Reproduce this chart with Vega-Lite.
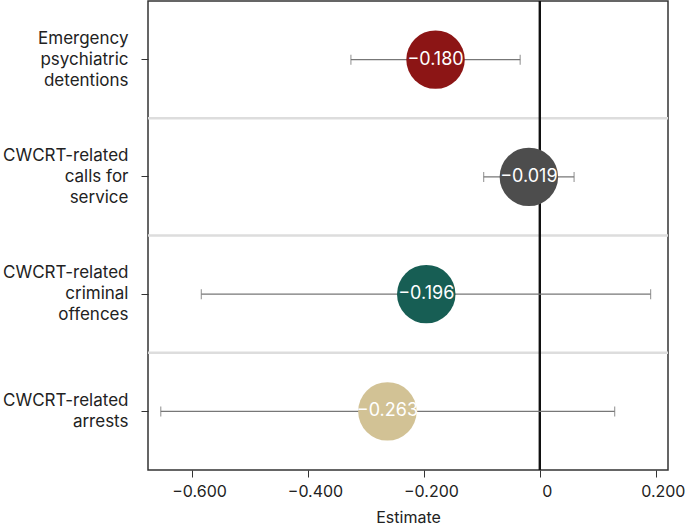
{
  "$schema": "https://vega.github.io/schema/vega-lite/v6.json",
  "width": 520,
  "height": 469,
  "autosize": {"type": "none"},
  "padding": {"left": 148, "top": 1, "right": 17, "bottom": 56},
  "config": {
    "font": "Inter",
    "view": {"stroke": "#333333", "strokeWidth": 1.5},
    "axis": {"grid": false, "domain": false}
  },
  "data": {
    "values": [
      {"outcome": "Emergency psychiatric detentions", "estimate": -0.180, "lo": -0.326, "hi": -0.034, "color": "#8C1515"},
      {"outcome": "CWCRT-related calls for service", "estimate": -0.019, "lo": -0.097, "hi": 0.059, "color": "#4D4D4D"},
      {"outcome": "CWCRT-related criminal offences", "estimate": -0.196, "lo": -0.584, "hi": 0.191, "color": "#175E54"},
      {"outcome": "CWCRT-related arrests", "estimate": -0.263, "lo": -0.654, "hi": 0.129, "color": "#D2C295"}
    ]
  },
  "encoding": {
    "y": {
      "field": "outcome",
      "type": "nominal",
      "sort": ["Emergency psychiatric detentions", "CWCRT-related calls for service", "CWCRT-related criminal offences", "CWCRT-related arrests"],
      "scale": {"paddingInner": 0, "paddingOuter": 0},
      "title": null,
      "axis": {
        "labelFontSize": 17,
        "labelColor": "#222222",
        "labelLineHeight": 21,
        "labelOffset": {"condition": {"test": "datum.value == 'CWCRT-related arrests'", "value": -10.5}, "value": -21},
        "labelPadding": 13,
        "tickSize": 7,
        "tickColor": "#333333",
        "labelLimit": 200,
        "labelExpr": "datum.value == 'Emergency psychiatric detentions' ? ['Emergency','psychiatric','detentions'] : datum.value == 'CWCRT-related calls for service' ? ['CWCRT-related','calls for','service'] : datum.value == 'CWCRT-related criminal offences' ? ['CWCRT-related','criminal','offences'] : ['CWCRT-related','arrests']"
      }
    }
  },
  "layer": [
    {
      "transform": [{"filter": "datum.outcome != 'Emergency psychiatric detentions'"}],
      "mark": {"type": "rule", "color": "#dddddd", "strokeWidth": 2.5},
      "encoding": {
        "y": {"field": "outcome", "type": "nominal", "sort": ["Emergency psychiatric detentions", "CWCRT-related calls for service", "CWCRT-related criminal offences", "CWCRT-related arrests"], "bandPosition": 0}
      }
    },
    {
      "mark": {"type": "rule", "color": "#111111", "strokeWidth": 2},
      "encoding": {
        "x": {"datum": 0, "type": "quantitative"},
        "y": null
      }
    },
    {
      "mark": {"type": "rule", "color": "#777777", "strokeWidth": 1.2},
      "encoding": {
        "x": {
          "field": "lo",
          "type": "quantitative",
          "scale": {"domain": [-0.676, 0.221], "nice": false, "zero": false},
          "title": "Estimate",
          "axis": {
            "values": [-0.6, -0.4, -0.2, 0, 0.2],
            "labelExpr": "datum.value == 0 ? '0' : format(datum.value, '.3f')",
            "labelFontSize": 16,
            "labelColor": "#222222",
            "labelOffset": 7,
            "labelPadding": 6,
            "tickSize": 7,
            "tickColor": "#333333",
            "titleFontSize": 16,
            "titleFontWeight": "normal",
            "titleColor": "#222222",
            "titlePadding": 10
          }
        },
        "x2": {"field": "hi"}
      }
    },
    {
      "mark": {"type": "tick", "color": "#777777", "thickness": 1.2, "size": 10, "orient": "vertical"},
      "encoding": {"x": {"field": "lo", "type": "quantitative"}}
    },
    {
      "mark": {"type": "tick", "color": "#777777", "thickness": 1.2, "size": 10, "orient": "vertical"},
      "encoding": {"x": {"field": "hi", "type": "quantitative"}}
    },
    {
      "mark": {"type": "circle", "size": 3420, "opacity": 1},
      "encoding": {
        "x": {"field": "estimate", "type": "quantitative"},
        "color": {"field": "color", "type": "nominal", "scale": null}
      }
    },
    {
      "mark": {"type": "text", "color": "white", "fontSize": 18, "align": "center", "baseline": "middle"},
      "encoding": {
        "x": {"field": "estimate", "type": "quantitative"},
        "text": {"field": "estimate", "type": "quantitative", "format": ".3f"}
      }
    }
  ]
}
